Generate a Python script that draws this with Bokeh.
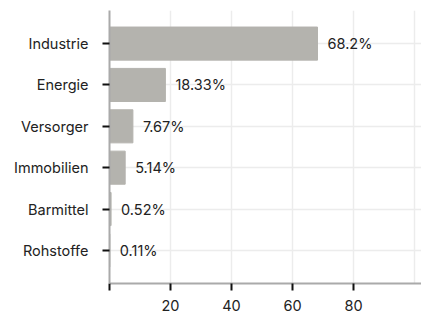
from bokeh.plotting import figure
from bokeh.models import ColumnDataSource, FixedTicker, FactorRange, Range1d
from bokeh.core.properties import value
from bokeh.embed import file_html
from bokeh.resources import INLINE

categories = ["Industrie", "Energie", "Versorger", "Immobilien", "Barmittel", "Rohstoffe"]
values = [68.2, 18.33, 7.67, 5.14, 0.52, 0.11]
labels = ["68.2%", "18.33%", "7.67%", "5.14%", "0.52%", "0.11%"]
x_ticks = [0, 20, 40, 60, 80]
grid_ticks = [0, 20, 40, 60, 80, 100]

src = ColumnDataSource(dict(cat=categories, val=values, lab=labels))

yr = FactorRange(factors=list(reversed(categories)), range_padding=0.3, range_padding_units="absolute")
p = figure(width=421, height=314, y_range=yr, x_range=Range1d(0, max(values) * 1.5),
           output_backend="svg", toolbar_location=None,
           min_border_left=109, min_border_top=10, min_border_right=0, min_border_bottom=31)
p.outline_line_color = None

p.hbar(y="cat", right="val", left=0, height=0.8, source=src,
       fill_color="#b4b3ae", line_color="#b4b3ae")
p.text(x="val", y="cat", text="lab", source=src, x_offset=10,
       text_baseline="middle", text_align="left", text_font=value("Inter"),
       text_font_size="14.5px", text_color="#222222")

ax = p.xaxis[0]
ax.ticker = FixedTicker(ticks=x_ticks)
ax.major_label_overrides = {0: ""}
p.xgrid[0].ticker = FixedTicker(ticks=grid_ticks)

for a in (p.xaxis[0], p.yaxis[0]):
    a.axis_line_color = "#aaaaaa"
    a.axis_line_width = 2
    a.major_tick_line_color = "#111111"
    a.major_tick_line_width = 2
    a.major_tick_out = 7
    a.major_tick_in = 0
    a.minor_tick_line_color = None
    a.major_label_text_font = "Inter"
    a.major_label_text_font_size = "14.5px"
    a.major_label_text_color = "#222222"
p.yaxis[0].major_label_standoff = 14
p.xaxis[0].major_label_standoff = 9

p.xgrid.grid_line_color = "#ececec"
p.xgrid.grid_line_width = 1.5
p.ygrid.grid_line_color = "#ececec"
p.ygrid.grid_line_width = 1.5

open("out.html", "w").write(file_html(p, INLINE))
